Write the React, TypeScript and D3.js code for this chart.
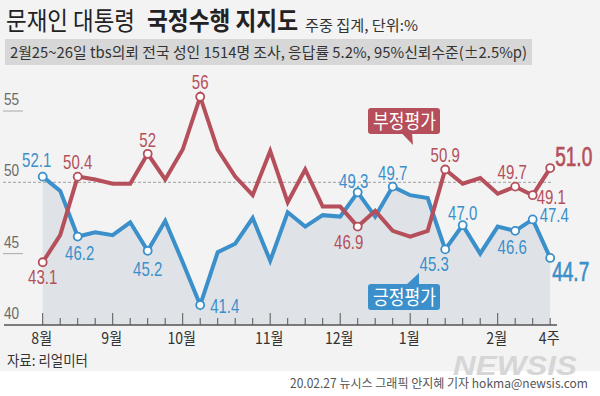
import React from "react";
import * as d3 from "d3";

// ---------- data ----------
const weeks = [
  "8월1주", "8월2주", "8월3주", "8월4주",
  "9월1주", "9월2주", "9월3주", "9월4주",
  "10월1주", "10월2주", "10월3주", "10월4주", "10월5주",
  "11월1주", "11월2주", "11월3주", "11월4주",
  "12월1주", "12월2주", "12월3주", "12월4주",
  "1월1주", "1월2주", "1월3주", "1월4주", "1월5주",
  "2월1주", "2월2주", "2월3주", "2월4주",
];
// 긍정평가 (positions as drawn in the graphic)
const positive = [
  50.4, 49.4, 46.2, 46.5, 46.3, 47.2, 45.2, 47.3, 44.4, 41.4,
  45.1, 45.7, 47.5, 44.5, 47.9, 46.9, 47.7, 47.6, 49.3, 47.6,
  49.7, 49.1, 48.9, 45.3, 47.0, 45.0, 46.9, 46.6, 47.4, 44.7,
];
// 부정평가
const negative = [
  44.4, 46.3, 50.4, 50.2, 49.9, 49.9, 52.0, 50.2, 52.3, 56.0,
  52.3, 50.4, 49.1, 52.2, 48.6, 50.9, 48.3, 48.3, 46.9, 48.0,
  46.6, 46.2, 46.6, 50.9, 49.9, 50.3, 49.2, 49.7, 49.1, 51.0,
];
const monthTickWeeks = ["8월1주", "9월1주", "10월1주", "11월1주", "12월1주", "1월1주", "2월1주", "2월4주"];
const monthTickLabels = ["8월", "9월", "10월", "11월", "12월", "1월", "2월", "4주"];
const yTicks = [40, 45, 50, 55];

const posLabelWeeks = ["8월1주", "8월3주", "9월3주", "10월2주", "12월2주", "12월4주", "1월3주", "1월4주", "2월2주", "2월3주", "2월4주"];
const posLabelTexts = ["52.1", "46.2", "45.2", "41.4", "49.3", "49.7", "45.3", "47.0", "46.6", "47.4", "44.7"];
const negLabelWeeks = ["8월1주", "8월3주", "9월3주", "10월2주", "12월2주", "1월3주", "2월2주", "2월3주", "2월4주"];
const negLabelTexts = ["43.1", "50.4", "52", "56", "46.9", "50.9", "49.7", "49.1", "51.0"];

const titleRegular = "문재인 대통령";
const titleBold = "국정수행 지지도";
const titleNote = "주중 집계, 단위:%";
const surveyNote = "2월25~26일 tbs의뢰 전국 성인 1514명 조사, 응답률 5.2%, 95%신뢰수준(±2.5%p)";
const sourceNote = "자료: 리얼미터";
const creditNote = "20.02.27 뉴시스 그래픽 안지혜 기자 hokma@newsis.com";
const posName = "긍정평가";
const negName = "부정평가";

// ---------- layout ----------
const W = 600;
const H = 396;
const BLUE = "#3b8fca";
const RED = "#b54f5b";
const KR = "'Noto Sans CJK KR', 'Noto Sans', sans-serif";
const NUM = "'Liberation Sans', Arial, sans-serif";

// label placement (dx, dy, anchor, big)
const posLabelPlace: [number, number, string, boolean][] = [
  [-6, -10, "middle", false],
  [2, 23, "middle", false],
  [0, 25, "middle", false],
  [10, 8, "start", false],
  [-4, -4, "middle", false],
  [0, -7, "middle", false],
  [-11, 22, "middle", false],
  [0, -5, "middle", false],
  [-3, 23, "middle", false],
  [7, 3, "start", false],
  [2, 23, "start", true],
];
const negLabelPlace: [number, number, string, boolean][] = [
  [0, 22, "middle", false],
  [0, -8, "middle", false],
  [0, -7, "middle", false],
  [0, -8, "middle", false],
  [-9, 22, "middle", false],
  [0, -7, "middle", false],
  [-3, -8, "middle", false],
  [4, 9, "start", false],
  [5, -2, "start", true],
];

function SText(props: {
  x: number;
  y: number;
  sx: number;
  anchor?: string;
  size: number;
  weight?: number;
  fill: string;
  family: string;
  stroke?: number;
  children: React.ReactNode;
}) {
  return (
    <text
      transform={`translate(${props.x},${props.y}) scale(${props.sx},1)`}
      x={0}
      y={0}
      textAnchor={props.anchor || "start"}
      fontFamily={props.family}
      fontSize={props.size}
      fontWeight={props.weight || 400}
      fill={props.fill}
      stroke={props.stroke ? props.fill : "none"}
      strokeWidth={props.stroke || 0}
    >
      {props.children}
    </text>
  );
}

export default function App() {
  const x = d3.scalePoint<string>().domain(weeks).range([42.7, 550.2]);
  const y = d3.scaleLinear().domain([40, 55]).range([325, 111]);
  const baseY = y(40);

  const line = d3
    .line<number>()
    .x((_, i) => x(weeks[i]) as number)
    .y((d) => y(d));
  const area = d3
    .area<number>()
    .x((_, i) => x(weeks[i]) as number)
    .y0(baseY)
    .y1((d) => y(d));

  const idx = (w: string) => weeks.indexOf(w);

  return (
    <svg
      width={W}
      height={H}
      viewBox={`0 0 ${W} ${H}`}
      style={{ position: "absolute", left: 0, top: 0, display: "block" }}
    >
      <rect x={0} y={0} width={W} height={H} fill="#ffffff" />
      <rect x={0} y={0} width={W} height={371} fill="#f3f3f3" />

      {/* title */}
      <text x={6} y={30} fontFamily={KR} fontSize={25} fill="#222" textLength={129} lengthAdjust="spacingAndGlyphs">
        {titleRegular}
      </text>
      <text x={147} y={30} fontFamily={KR} fontSize={25} fontWeight={700} fill="#222" textLength={151} lengthAdjust="spacingAndGlyphs">
        {titleBold}
      </text>
      <text x={305} y={31} fontFamily={KR} fontSize={15} fill="#333" textLength={113} lengthAdjust="spacingAndGlyphs">
        {titleNote}
      </text>
      <rect x={5} y={39} width={527} height={26} fill="#d7d7d7" />
      <text x={10} y={58} fontFamily={KR} fontSize={15} fill="#333" textLength={517} lengthAdjust="spacingAndGlyphs">
        {surveyNote}
      </text>

      {/* area under positive */}
      <path d={area(positive) || ""} fill="#dfe3e7" />

      {/* y axis marks */}
      {yTicks.map((t) => (
        <g key={t}>
          <SText x={4} y={y(t) - 6} sx={0.8} size={17} fill="#6a6a6a" family={NUM}>
            {t}
          </SText>
          {t === 50 ? (
            <line x1={3} x2={553} y1={y(t)} y2={y(t)} stroke="#b0b0b0" strokeWidth={1.2} strokeDasharray="3,2" />
          ) : t === 40 ? null : (
            <line x1={3} x2={23} y1={y(t)} y2={y(t)} stroke="#a8a8a8" strokeWidth={1} />
          )}
        </g>
      ))}

      {/* x axis */}
      <line x1={4} x2={557} y1={baseY} y2={baseY} stroke="#555" strokeWidth={1.5} />
      {weeks.map((w) => {
        const major = monthTickWeeks.indexOf(w) >= 0 && w !== "2월4주";
        return (
          <line
            key={w}
            x1={x(w)}
            x2={x(w)}
            y1={baseY}
            y2={baseY - (major ? 12 : 7)}
            stroke="#555"
            strokeWidth={1}
          />
        );
      })}
      {monthTickWeeks.map((w, i) => (
        <SText
          key={w}
          x={(x(w) as number) - 1}
          y={344}
          sx={0.88}
          anchor="middle"
          family={KR}
          size={16}
          fill="#333"
        >
          {monthTickLabels[i]}
        </SText>
      ))}

      {/* lines */}
      <path d={line(positive) || ""} fill="none" stroke={BLUE} strokeWidth={4} strokeLinejoin="miter" />
      <path d={line(negative) || ""} fill="none" stroke={RED} strokeWidth={4} strokeLinejoin="miter" />

      {/* markers */}
      {posLabelWeeks.map((w) => (
        <circle key={"pc" + w} cx={x(w)} cy={y(positive[idx(w)])} r={4} fill="#fff" stroke={BLUE} strokeWidth={1.8} />
      ))}
      {negLabelWeeks.map((w) => (
        <circle key={"nc" + w} cx={x(w)} cy={y(negative[idx(w)])} r={4} fill="#fff" stroke={RED} strokeWidth={1.8} />
      ))}

      {/* value labels */}
      {posLabelWeeks.map((w, i) => {
        const [dx, dy, anchor, big] = posLabelPlace[i];
        return (
          <SText
            key={"pl" + w}
            x={(x(w) as number) + dx}
            y={y(positive[idx(w)]) + dy}
            sx={big ? 0.68 : 0.75}
            anchor={anchor}
            family={NUM}
            size={big ? 28 : 20}
            stroke={big ? 0.7 : 0}
            fill={BLUE}
          >
            {posLabelTexts[i]}
          </SText>
        );
      })}
      {negLabelWeeks.map((w, i) => {
        const [dx, dy, anchor, big] = negLabelPlace[i];
        return (
          <SText
            key={"nl" + w}
            x={(x(w) as number) + dx}
            y={y(negative[idx(w)]) + dy}
            sx={big ? 0.68 : 0.75}
            anchor={anchor}
            family={NUM}
            size={big ? 28 : 20}
            stroke={big ? 0.7 : 0}
            fill={RED}
          >
            {negLabelTexts[i]}
          </SText>
        );
      })}

      {/* series callouts */}
      <rect x={368} y={108} width={72} height={26} rx={3} fill={RED} />
      <path d="M401.5,133 L412,133 L413,145 Z" fill={RED} />
      <text x={373} y={128.5} fontFamily={KR} fontSize={20} fill="#fff" textLength={63} lengthAdjust="spacingAndGlyphs">
        {negName}
      </text>
      <rect x={368} y={284} width={72} height={26} rx={3} fill={BLUE} />
      <path d="M406,285 L419,285 L419,273 Z" fill={BLUE} />
      <text x={373} y={304.5} fontFamily={KR} fontSize={20} fill="#fff" textLength={63} lengthAdjust="spacingAndGlyphs">
        {posName}
      </text>

      {/* source & credit */}
      <text x={7} y={366} fontFamily={KR} fontSize={15} fill="#333" textLength={81} lengthAdjust="spacingAndGlyphs">
        {sourceNote}
      </text>
      <text
        x={453}
        y={375}
        fontFamily="'Liberation Sans', sans-serif"
        fontSize={27}
        fontWeight={700}
        fontStyle="italic"
        fill="#d6d6d6"
        textLength={124}
        lengthAdjust="spacingAndGlyphs"
      >
        NEWSIS
      </text>
      <text x={290} y={388} fontFamily={KR} fontSize={12.5} fill="#555" textLength={298} lengthAdjust="spacingAndGlyphs">
        {creditNote}
      </text>
    </svg>
  );
}
